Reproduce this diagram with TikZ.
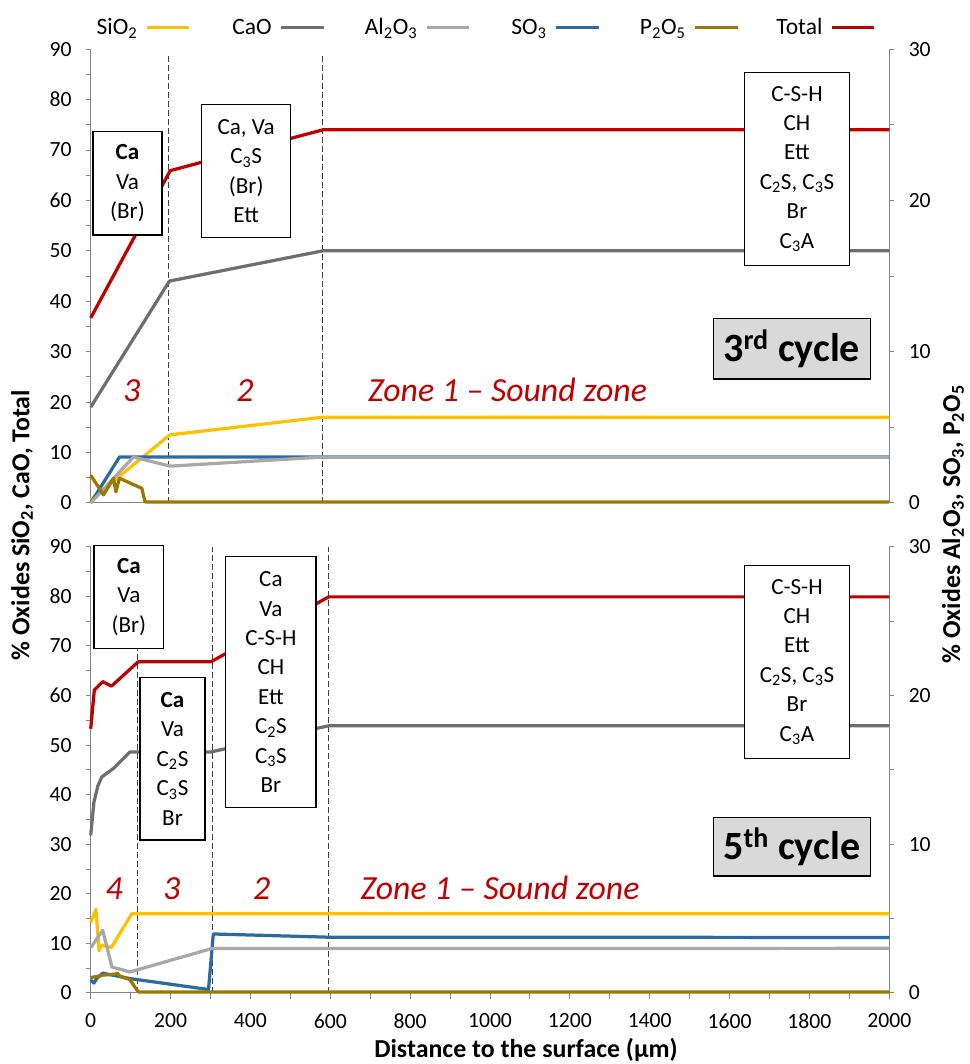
\documentclass[tikz,border=0pt]{standalone}
\usepackage{fontspec}
\setmainfont{Carlito}
\usepackage{xcolor}
\usepackage{tikz}
\usetikzlibrary{calc}
\usetikzlibrary{positioning}

\definecolor{sio}{HTML}{FFC000}
\definecolor{cao}{HTML}{6E6E6E}
\definecolor{alo}{HTML}{A8A8A8}
\definecolor{so}{HTML}{2C6BA2}
\definecolor{po}{HTML}{9C7800}
\definecolor{tot}{HTML}{C00000}
\definecolor{axisgray}{HTML}{868686}

\tikzset{
  serie/.style={line width=2.3pt, line join=round},
  phase/.style={rectangle, draw=black, line width=0.9pt, fill=white, align=center, font=\fontsize{16.4pt}{20.9pt}\selectfont},
  cyc/.style={rectangle, draw=black, line width=0.9pt, fill=black!15, font=\fontsize{28.5pt}{30pt}\selectfont\bfseries},
  zone/.style={text=tot, inner sep=0pt, font=\fontsize{24pt}{26pt}\selectfont\itshape},
  axl/.style={draw=axisgray, line width=0.7pt},
  num/.style={inner sep=0pt, font=\fontsize{15.4pt}{17pt}\selectfont},
  leg/.style={inner sep=0pt, font=\fontsize{16.7pt}{18pt}\selectfont},
  ttl/.style={inner sep=0pt, font=\fontsize{18.4pt}{20pt}\selectfont\bfseries},
  lim/.style={dash pattern=on 4.2pt off 2.2pt, draw=black!75, line width=0.6pt}
}

\begin{document}
\begin{tikzpicture}[x=0.025cm, y=-0.025cm]
\useasboundingbox (0,0) rectangle (970,1064);

\foreach \nm/\txt/\col/\xs in {lsio/{SiO\textsubscript{2}}/sio/146.7, lcao/CaO/cao/281, lalo/{Al\textsubscript{2}O\textsubscript{3}}/alo/426.7, lso/{SO\textsubscript{3}}/so/556, lpo/{P\textsubscript{2}O\textsubscript{5}}/po/695, ltot/Total/tot/831.7}
{
  \node [leg, anchor=base east] (\nm) at (\xs-9,35) {\txt};
  \draw [serie, draw=\col] (\nm.base east) ++(9,-7.7) -- ++(42.5,0);
}

\begin{scope}[xshift=2.2675cm, yshift=-12.57cm, x=0.00998cm, y=0.126cm]
\draw [lim] (195,0) -- (195,89);
\draw [lim] (581,0) -- (581,89);
\draw [axl] (0,90) -- (0,0) -- (2000,0) -- (2000,90);
\foreach \v in {0,5,...,90} \draw [axl] (0,\v) -- ++(-0.12cm,0);
\foreach \v in {0,15,...,90} \draw [axl] (2000,\v) -- ++(0.12cm,0);
\foreach \v in {0,10,...,90} \node [num, anchor=east, xshift=-0.47cm] (ta\v) at (0,\v) {\v};
\foreach \v/\w in {0/0,30/10,60/20,90/30} \node [num, anchor=west, xshift=0.48cm] (tb\v) at (2000,\v) {\w};
\draw [serie, draw=sio] (0,0.6) -- (198,13.5) -- (581,17) -- (2000,17);
\draw [serie, draw=cao] (0,19) -- (197,44) -- (581,50) -- (2000,50);
\draw [serie, draw=tot] (0,36.7) -- (199,65.9) -- (581,74) -- (2000,74);
\draw [serie, draw=so] (0,0) -- (72,9.1) -- (2000,9.1);
\draw [serie, draw=alo] (0,0) -- (107,9.1) -- (199,7.3) -- (581,9.1) -- (2000,9.1);
\draw [serie, draw=po] (0,5.5) -- (32,1.6) -- (57,4.9) -- (63,2.2) -- (72,4.9) -- (128,2.9) -- (136,0.2) -- (2000,0.2);
\end{scope}

\begin{scope}[xshift=2.2675cm, yshift=-24.8175cm, x=0.00998cm, y=0.1239cm]
\draw [lim] (118,0) -- (118,90);
\draw [lim] (304,0) -- (304,90);
\draw [lim] (596,0) -- (596,90);
\draw [axl] (0,90) -- (0,0) -- (2000,0) -- (2000,90);
\foreach \v in {0,5,...,90} \draw [axl] (0,\v) -- ++(-0.12cm,0);
\foreach \v in {0,15,...,90} \draw [axl] (2000,\v) -- ++(0.12cm,0);
\foreach \v in {0,100,...,2000} \draw [axl] (\v,0) -- ++(0,-0.14cm);
\foreach \v in {0,10,...,90} \node [num, anchor=east, xshift=-0.47cm] (tc\v) at (0,\v) {\v};
\foreach \v/\w in {0/0,30/10,60/20,90/30} \node [num, anchor=west, xshift=0.48cm] (td\v) at (2000,\v) {\w};
\foreach \v in {0,200,...,2000} \node [num, anchor=north, yshift=-0.51cm] (tx\v) at (\v,0) {\v};
\draw [serie, draw=sio] (0,14.2) -- (13,16.9) -- (21,8.5) -- (27,9.6) -- (52,9.2) -- (103,16) -- (2000,16);
\draw [serie, draw=cao] (0,31.8) -- (8,38.5) -- (18,41.8) -- (28,43.6) -- (57,45.3) -- (98,48.6) -- (300,48.6) -- (596,53.9) -- (2000,53.9);
\draw [serie, draw=tot] (0,53.3) -- (9,61.1) -- (30,62.8) -- (52,61.9) -- (119,66.8) -- (301,66.8) -- (596,79.9) -- (2000,79.9);
\draw [serie, draw=so] (0,2.6) -- (8,2.0) -- (15,2.9) -- (30,4.0) -- (98,2.9) -- (295,0.7) -- (307,11.9) -- (595,11.25) -- (2000,11.2);
\draw [serie, draw=alo] (0,9.15) -- (30,12.65) -- (53,5.25) -- (98,4.24) -- (303,8.96) -- (2000,9);
\draw [serie, draw=po] (0,3.1) -- (32,3.6) -- (61,3.8) -- (67,4.0) -- (73,3.4) -- (98,2.7) -- (119,0.2) -- (2000,0.2);
\end{scope}

\node [phase, minimum width=1.725cm, minimum height=2.58cm] (ca3) at (127.5,183.4) {\textbf{Ca}\\Va\\(Br)};
\node [phase, minimum width=2.225cm, minimum height=3.335cm] (cv3) at (246.2,171) {Ca, Va\\C\textsubscript{3}S\\(Br)\\Ett};
\node [phase, minimum width=2.635cm, minimum height=4.815cm] (sd3) at (797,169) {C-S-H\\CH\\Ett\\C\textsubscript{2}S, C\textsubscript{3}S\\Br\\C\textsubscript{3}A};
\node [cyc, minimum width=3.92cm, minimum height=1.52cm] (cy3) at (791.7,348.7) {3\textsuperscript{rd} cycle};

\node [phase, minimum width=1.74cm, minimum height=2.565cm] (ca5) at (128.9,597) {\textbf{Ca}\\Va\\(Br)};
\node [phase, minimum width=1.625cm, minimum height=4.07cm] (cb5) at (172.5,758.7) {\textbf{Ca}\\Va\\C\textsubscript{2}S\\C\textsubscript{3}S\\Br};
\node [phase, minimum width=2.26cm, minimum height=6.275cm] (cv5) at (270.9,682.2) {Ca\\Va\\C-S-H\\CH\\Ett\\C\textsubscript{2}S\\C\textsubscript{3}S\\Br};
\node [phase, minimum width=2.635cm, minimum height=4.815cm] (sd5) at (797,662) {C-S-H\\CH\\Ett\\C\textsubscript{2}S, C\textsubscript{3}S\\Br\\C\textsubscript{3}A};
\node [cyc, minimum width=3.92cm, minimum height=1.47cm] (cy5) at (791.7,846.7) {5\textsuperscript{th} cycle};

\node [zone, anchor=base] (z3a) at (131.7,401.7) {3};
\node [zone, anchor=base] (z2a) at (245,401.7) {2};
\node [zone, anchor=base] (z1a) at (507.5,401.7) {Zone 1 -- Sound zone};
\node [zone, anchor=base] (z4b) at (114.3,899) {4};
\node [zone, anchor=base] (z3b) at (171.7,899) {3};
\node [zone, anchor=base] (z2b) at (261.7,899) {2};
\node [zone, anchor=base] (z1b) at (500,899) {Zone 1 -- Sound zone};

\node [ttl, rotate=90] (yl) at (22,525) {\% Oxides SiO\textsubscript{2}, CaO, Total};
\node [ttl, rotate=90] (yr) at (953,524) {\% Oxides Al\textsubscript{2}O\textsubscript{3}, SO\textsubscript{3}, P\textsubscript{2}O\textsubscript{5}};
\node [ttl] (xl) at (526,1050) {Distance to the surface (µm)};
\end{tikzpicture}
\end{document}
